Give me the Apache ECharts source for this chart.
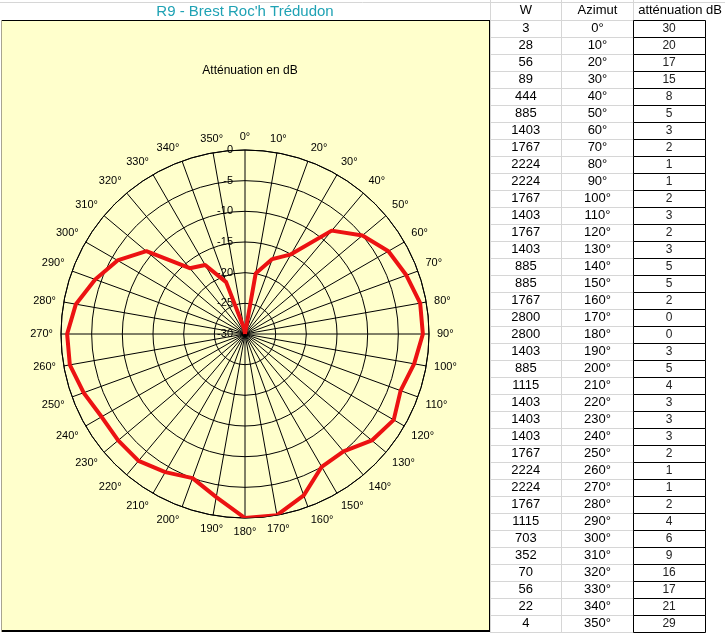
<!DOCTYPE html>
<html>
<head>
<meta charset="utf-8">
<script src="https://cdn.jsdelivr.net/npm/echarts@6/dist/echarts.min.js"></script>
<style>html,body{margin:0;padding:0;background:#fff;}#c{width:725px;height:635px;}</style>
</head>
<body>
<div id="c"></div>
<script>
const sheetTitle = "R9 - Brest Roc'h Trédudon";
const chartTitle = "Atténuation en dB";
const headers = ["W", "Azimut", "atténuation dB"];
const W = [3,28,56,89,444,885,1403,1767,2224,2224,1767,1403,1767,1403,885,885,1767,2800,2800,1403,885,1115,1403,1403,1403,1767,2224,2224,1767,1115,703,352,70,56,22,4];
const azimuths = [0,10,20,30,40,50,60,70,80,90,100,110,120,130,140,150,160,170,180,190,200,210,220,230,240,250,260,270,280,290,300,310,320,330,340,350];
const attenuation = [30,20,17,15,8,5,3,2,1,1,2,3,2,3,5,5,2,0,0,3,5,4,3,3,3,2,1,1,2,4,6,9,16,17,21,29];

const FONT = "'Liberation Sans', Arial, sans-serif";
const polarData = azimuths.map((a, i) => [-attenuation[i], a]);
polarData.push([-attenuation[0], 360]);
const tableData = azimuths.map((a, i) => [i, W[i], a, attenuation[i], 0]);

const chart = echarts.init(document.getElementById('c'), null, {renderer: 'canvas'});
const grayLine = '#d6d6d6';
chart.setOption({
  animation: false,
  backgroundColor: '#ffffff',
  textStyle: {fontFamily: FONT},
  title: {
    text: chartTitle, left: 245, top: 60, textAlign: 'center',
    textStyle: {fontSize: 12, fontWeight: 'normal', color: '#000', fontFamily: FONT}
  },
  graphic: [
    {type: 'line', z: 0, shape: {x1: 0, y1: 2.5, x2: 725, y2: 2.5}, style: {stroke: grayLine, lineWidth: 1}},
    {type: 'line', z: 0, shape: {x1: 490.5, y1: 0, x2: 490.5, y2: 20}, style: {stroke: grayLine, lineWidth: 1}},
    {type: 'line', z: 0, shape: {x1: 561.5, y1: 0, x2: 561.5, y2: 20}, style: {stroke: grayLine, lineWidth: 1}},
    {type: 'line', z: 0, shape: {x1: 633.5, y1: 0, x2: 633.5, y2: 20}, style: {stroke: grayLine, lineWidth: 1}},
    {type: 'rect', z: 0, shape: {x: 1, y: 20, width: 489, height: 611}, style: {fill: '#FFFFCC', stroke: null}},
    {type: 'line', z: 1, shape: {x1: 1, y1: 20.5, x2: 490, y2: 20.5}, style: {stroke: '#000', lineWidth: 1}},
    {type: 'line', z: 1, shape: {x1: 489.5, y1: 20, x2: 489.5, y2: 632}, style: {stroke: '#000', lineWidth: 1}},
    {type: 'line', z: 1, shape: {x1: 1, y1: 631, x2: 490, y2: 631}, style: {stroke: '#000', lineWidth: 2}},
    {type: 'line', z: 1, shape: {x1: 1.5, y1: 20, x2: 1.5, y2: 632}, style: {stroke: '#a8a490', lineWidth: 1}},
    {type: 'text', z: 1, x: 245, y: 12, style: {text: sheetTitle, align: 'center', verticalAlign: 'middle', font: "15px 'Liberation Sans Narrow', 'Liberation Sans', Arial, sans-serif", fill: '#1fa2b4'}}
  ],
  polar: {center: [245, 334], radius: 184},
  angleAxis: {
    type: 'value', min: 0, max: 360, interval: 10, startAngle: 90, clockwise: true,
    axisLine: {show: true, lineStyle: {color: '#000', width: 1}},
    axisTick: {show: false},
    splitLine: {show: true, lineStyle: {color: '#000', width: 1}},
    axisLabel: {
      show: true, margin: 8, fontSize: 11, color: '#000', fontFamily: FONT,
      formatter: v => (v === 360 ? '' : v + '°')
    }
  },
  radiusAxis: {
    type: 'value', min: -30, max: 0, interval: 5,
    axisLine: {show: false},
    axisTick: {show: false},
    splitLine: {show: true, lineStyle: {color: '#000', width: 1}},
    axisLabel: {show: true, fontSize: 11, color: '#000', fontFamily: FONT, margin: 12, align: 'right', verticalAlign: 'middle'}
  },
  grid: {left: 490, top: 20, width: 215, height: 612},
  xAxis: {
    type: 'category', position: 'top', data: headers, boundaryGap: true,
    axisLine: {show: false}, axisTick: {show: false},
    splitLine: {show: true, lineStyle: {color: grayLine, width: 1}},
    axisLabel: {
      show: true, margin: 3, interval: 0, fontSize: 13, color: '#000', fontFamily: FONT,
      formatter: (v, i) => (i === 2 ? '{p|' + v + '}' : v),
      rich: {p: {fontSize: 13, fontFamily: FONT, color: '#000', padding: [0, 0, 0, 22]}}
    }
  },
  yAxis: {
    type: 'category', inverse: true, data: azimuths.map(a => a + '°'), boundaryGap: true,
    axisLine: {show: false}, axisTick: {show: false}, axisLabel: {show: false},
    splitLine: {show: true, lineStyle: {color: grayLine, width: 1}}
  },
  series: [
    {
      type: 'line', coordinateSystem: 'polar', data: polarData, z: 5,
      symbol: 'none', smooth: false,
      lineStyle: {color: '#ec1212', width: 4, join: 'round'}
    },
    {
      type: 'custom', coordinateSystem: 'cartesian2d', data: tableData,
      encode: {x: 4, y: 0},
      renderItem: function (params, api) {
        const row = api.value(0);
        const size = api.size([1, 1]);
        const pW = api.coord([0, row]);
        const pA = api.coord([1, row]);
        const pT = api.coord([2, row]);
        return {
          type: 'group',
          children: [
            {type: 'text', style: {text: String(api.value(1)), x: pW[0], y: pW[1], align: 'center', verticalAlign: 'middle', font: '13px ' + FONT, fill: '#000'}},
            {type: 'text', style: {text: api.value(2) + '°', x: pA[0], y: pA[1], align: 'center', verticalAlign: 'middle', font: '13px ' + FONT, fill: '#000'}},
            {type: 'rect', shape: {x: Math.round(pT[0] - size[0] / 2) + 0.5, y: Math.round(pT[1] - size[1] / 2) + 0.5, width: Math.round(size[0]), height: Math.round(size[1])}, style: {fill: '#fff', stroke: '#000', lineWidth: 1}},
            {type: 'text', style: {text: String(api.value(3)), x: pT[0], y: pT[1], align: 'center', verticalAlign: 'middle', font: '12px ' + FONT, fill: '#222'}}
          ]
        };
      }
    }
  ]
});
</script>
</body>
</html>
